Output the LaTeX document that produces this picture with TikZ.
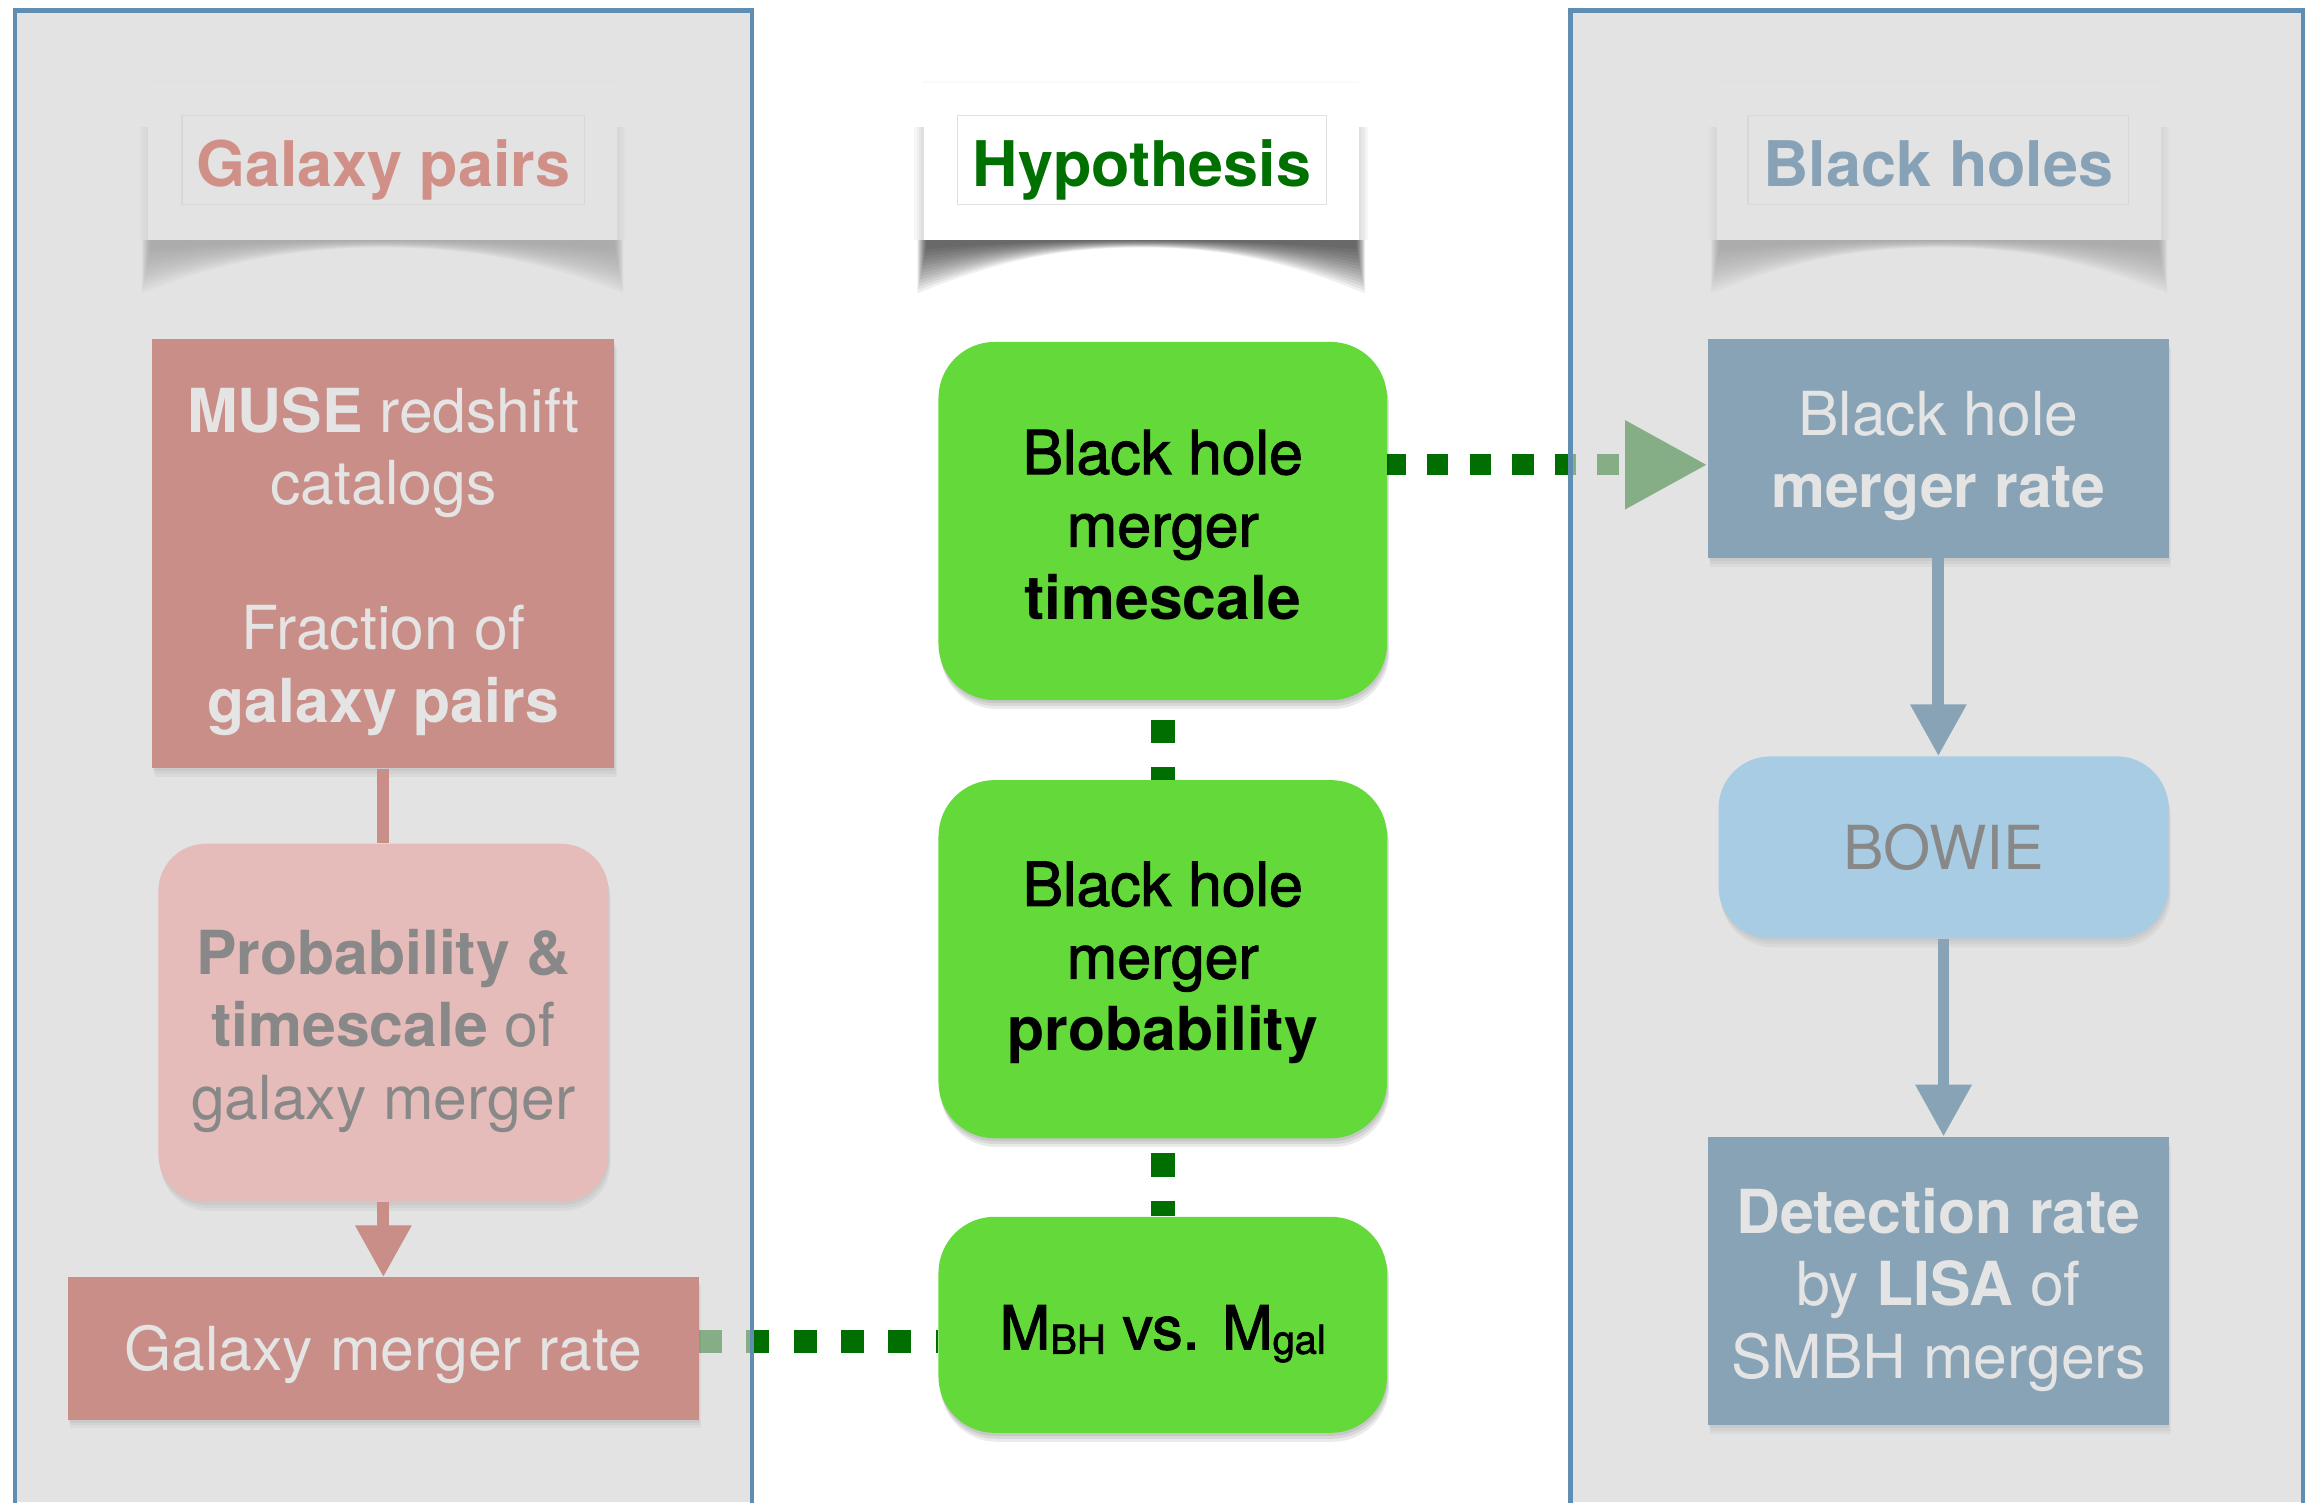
\documentclass[tikz,border=0pt]{standalone}
\usepackage{fontspec}
\setmainfont{TeX Gyre Heros}
\newfontfamily\medfont{TeX Gyre Heros}[FakeBold=1.8]
\usetikzlibrary{arrows.meta,shadows,calc}
\pgfdeclarelayer{base}
\pgfdeclarelayer{shade}
\pgfdeclarelayer{under}
\pgfdeclarelayer{veil}
\pgfsetlayers{base,shade,under,veil,main}

\definecolor{cSalmon}{RGB}{201,142,135}
\definecolor{cPink}{RGB}{229,188,186}
\definecolor{cLightText}{RGB}{228,228,228}
\definecolor{cGrayText}{RGB}{136,136,136}
\definecolor{cSteel}{RGB}{135,163,181}
\definecolor{cBowie}{RGB}{168,204,227}
\definecolor{cGreen}{RGB}{99,218,58}
\definecolor{cDot}{RGB}{0,110,0}
\definecolor{cHyp}{RGB}{0,112,0}
\definecolor{cBorder}{RGB}{96,142,179}
\definecolor{cVeil}{RGB}{211,211,211}
\definecolor{cGP}{RGB}{205,27,5}
\definecolor{cBH}{RGB}{3,79,132}
\definecolor{cFrame}{RGB}{225,225,225}

\newcommand\lift[1]{\rule{0pt}{#1pt}}

\tikzset{
  boxfont/.style={font=\fontsize{41}{49}\selectfont},
  hdrfont/.style={font=\fontsize{42.5}{50}\selectfont\bfseries},
  softshadow/.style={
    general shadow={fill=black,opacity=#1,shadow xshift=0.5pt,shadow yshift=-2pt},
    general shadow={fill=black,opacity=#1,shadow xshift=1pt,shadow yshift=-4pt},
    general shadow={fill=black,opacity=#1,shadow xshift=1.5pt,shadow yshift=-6pt}},
  plainbox/.style={rectangle, inner sep=0pt, align=center, boxfont},
  sidebox/.style={plainbox, softshadow=0.035},
  hypbox/.style={plainbox, fill=cGreen, text=black, rounded corners=38pt,
    softshadow=0.08, minimum width=303pt},
  card/.style={rectangle, inner sep=0pt, minimum height=106pt, fill=white},
  frame/.style={rectangle, draw=cFrame, line width=1pt, inner sep=0pt,
    text height=48pt, text depth=12pt, hdrfont},
  dotlink/.style={draw=cDot},
  redline/.style={draw=cSalmon, line width=8pt},
  blueline/.style={draw=cSteel, line width=8pt},
  headtip/.style={-{Triangle[length=35pt,width=36pt]}},
  panelframe/.style={draw=cBorder, line width=3pt}
}

\newcommand\cardshade[1]{%
  \foreach \i in {1,...,4}{%
    \fill[black,opacity=0.03] ($(#1.north west)+(-1.5*\i,30)$) rectangle ($(#1.south east)+(1.5*\i,0)$);}%
  \fill[black,opacity=0.02] ($(#1.north west)+(0,-1)$) rectangle ($(#1.north east)+(0,1)$);%
  \foreach \k in {0,...,13}{%
    \fill[black,opacity=0.06]
      ($(#1.south west)+(-4+0.45*\k,0)$) -- ($(#1.south east)+(4-0.45*\k,0)$)
      -- ($(#1.south east)+(4-0.45*\k,36-2.3*\k)$)
      .. controls ($(#1.south east)+(-50,14-0.9*\k)$) and ($(#1.south)+(55,5-0.36*\k)$) ..
      ($(#1.south)+(0,5-0.36*\k)$)
      .. controls ($(#1.south)+(-55,5-0.36*\k)$) and ($(#1.south west)+(50,14-0.9*\k)$) ..
      ($(#1.south west)+(-4+0.45*\k,36-2.3*\k)$) -- cycle;}%
}

\begin{document}
\begin{tikzpicture}[x=1pt,y=-1pt]
\useasboundingbox (0,0) rectangle (1568,1015);
\begin{pgfonlayer}{base}
  \fill[white] (0,0) rectangle (1568,1015);
\end{pgfonlayer}

% ---------- header cards ----------
\begin{pgfonlayer}{under}
  \node[card, minimum width=317pt] (cardL) at (258.5,109) {};
  \node[frame, minimum width=272pt, text=cGP] (frameL) at (259,108) {Galaxy pairs};
  \node[card, minimum width=294pt] (cardM) at (771,109) {};
  \node[frame, minimum width=249pt, text=cHyp] (frameM) at (771.5,108) {Hypothesis};
  \node[card, minimum width=300pt] (cardR) at (1310,109) {};
  \node[frame, minimum width=257pt, text=cBH] (frameR) at (1309.5,108) {Black holes};
\end{pgfonlayer}
\begin{pgfonlayer}{shade}
  \cardshade{cardL}
  \cardshade{cardM}
  \cardshade{cardR}
\end{pgfonlayer}

% ---------- left column ----------
\node[sidebox, fill=cSalmon, text=cLightText, minimum width=312pt, minimum height=290pt]
  (muse) at (259,374)
  {\lift{41}\textbf{MUSE} redshift\\catalogs\\[49pt]Fraction of\\\textbf{galaxy pairs}};
\node[sidebox, fill=cPink, text=cGrayText, rounded corners=32pt, minimum width=304pt, minimum height=242pt]
  (pgm) at (259,691)
  {\lift{41}\textbf{Probability \&}\\\textbf{timescale} of\\galaxy merger};
\node[sidebox, fill=cSalmon, text=cLightText, minimum width=426pt, minimum height=96pt]
  (gmr) at (259,911) {\lift{38}Galaxy merger rate};

% ---------- middle column ----------
\node[hypbox, minimum height=242pt] (tscale) at (785.5,352)
  {\lift{35}{\medfont Black hole}\\{\medfont merger}\\\textbf{timescale}};
\node[hypbox, minimum height=242pt] (prob) at (785.5,648)
  {\lift{35}{\medfont Black hole}\\{\medfont merger}\\\textbf{probability}};
\node[hypbox, minimum height=146pt] (mrel) at (785.5,895)
  {\lift{42}\medfont M\raisebox{-3pt}{\fontsize{27}{27}\selectfont BH} vs. M\raisebox{-3pt}{\fontsize{27}{27}\selectfont gal}};

% ---------- right column ----------
\node[sidebox, fill=cSteel, text=cLightText, minimum width=311pt, minimum height=148pt]
  (bhrate) at (1309.5,303) {\lift{40}Black hole\\\textbf{merger rate}};
\node[sidebox, fill=cBowie, text=cGrayText, rounded corners=35pt, minimum width=304pt, minimum height=123pt]
  (bowie) at (1313,572.5) {BOWIE};
\node[sidebox, fill=cSteel, text=cLightText, minimum width=311pt, minimum height=195pt]
  (detect) at (1309.5,865.5) {\lift{42}\textbf{Detection rate}\\by \textbf{LISA} of\\SMBH mergers};

% ---------- dotted connectors (under the veil) ----------
\coordinate (c1) at ([yshift=38pt]tscale.east);
\coordinate (c2) at ([yshift=5pt]gmr.east);
\begin{pgfonlayer}{under}
  \draw[dotlink, line width=14.4pt, dash pattern=on 14.4pt off 14.4pt, dash phase=2pt,
        -{Triangle[length=56pt,width=56pt]}] (c1) -- (c1 -| bhrate.west);
  \draw[dotlink, line width=15.5pt, dash pattern=on 15.5pt off 16.5pt] (c2) -- (c2 -| mrel.west);
  \draw[dotlink, line width=16pt, dash pattern=on 16pt off 16pt, dash phase=19pt] (tscale.south) -- (prob.north);
  \draw[dotlink, line width=16pt, dash pattern=on 16pt off 16pt, dash phase=22pt] (prob.south) -- (mrel.north);
\end{pgfonlayer}

% ---------- panel veils ----------
\begin{pgfonlayer}{veil}
  \fill[cVeil, fill opacity=0.635] (10,7) rectangle (508,1015);
  \fill[cVeil, fill opacity=0.635] (1061,7) rectangle (1556,1015);
\end{pgfonlayer}

% ---------- solid arrows ----------
\draw[redline] (muse.south) -- (pgm.north);
\draw[redline, headtip] (pgm.south) -- (gmr.north);
\draw[blueline, headtip] (bhrate.south) -- (bhrate.south |- bowie.north);
\draw[blueline, headtip] (bowie.south) -- (bowie.south |- detect.north);

% ---------- panel borders ----------
\draw[panelframe] (10,1016) |- (508,7) -- (508,1016);
\draw[panelframe] (1061,1016) |- (1556,7) -- (1556,1016);
\end{tikzpicture}
\end{document}
